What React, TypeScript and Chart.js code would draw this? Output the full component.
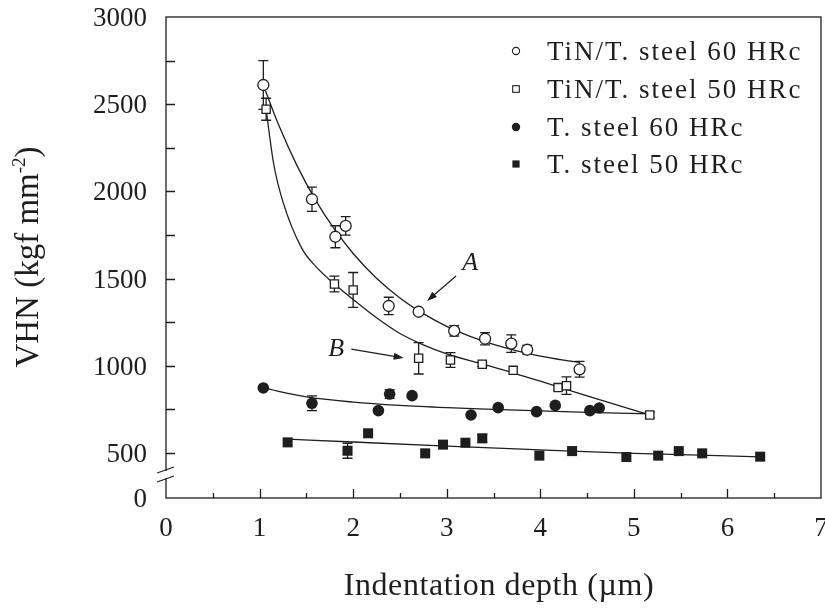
import React, { useEffect, useRef } from 'react';
import { Chart, registerables } from 'chart.js';

Chart.register(...registerables);

// Measured hardness: TiN-coated tool steel, 60 HRc (open circles)
const tin60X = [1.04, 1.56, 1.81, 1.92, 2.38, 2.70, 3.08, 3.41, 3.69, 3.86, 4.42];
const tin60Y = [2610, 1955, 1740, 1802, 1343, 1310, 1200, 1155, 1127, 1092, 980];
const tin60Err = [140, 70, 63, 53, 50, 12, 30, 35, 50, 25, 45];

// TiN-coated tool steel, 50 HRc (open squares)
const tin50X = [1.07, 1.80, 2.00, 2.70, 3.04, 3.38, 3.71, 4.19, 4.28, 5.17];
const tin50Y = [2471, 1469, 1435, 1043, 1033, 1009, 974, 875, 886, 718];
const tin50Err = [63, 45, 100, 90, 42, 12, 0, 15, 50, 15];

// Uncoated tool steel, 60 HRc (filled circles)
const st60X = [1.04, 1.56, 2.27, 2.39, 2.63, 3.26, 3.55, 3.96, 4.16, 4.53, 4.63];
const st60Y = [873, 785, 743, 838, 829, 718, 760, 737, 773, 743, 758];
const st60Err = [0, 42, 0, 25, 0, 0, 0, 0, 0, 0, 0];

// Uncoated tool steel, 50 HRc (filled squares)
const st50X = [1.30, 1.94, 2.16, 2.77, 2.96, 3.20, 3.38, 3.99, 4.34, 4.92, 5.26, 5.48, 5.73, 6.35];
const st50Y = [561, 513, 613, 498, 548, 559, 584, 485, 511, 477, 485, 511, 498, 479];
const st50Err = [0, 43, 0, 0, 0, 0, 22, 0, 0, 0, 0, 0, 0, 0];

// Fitted trend curves
const fitAX = [1.04, 1.2, 1.4, 1.6, 1.8, 2.0, 2.25, 2.5, 2.75, 3.0, 3.25, 3.5, 3.75, 4.0, 4.25, 4.42];
const fitAY = [2610, 2386, 2148, 1949, 1783, 1644, 1502, 1389, 1299, 1226, 1169, 1123, 1086, 1056, 1033, 1020];
const fitBX = [1.07, 1.15, 1.25, 1.45, 1.6, 1.8, 2.0, 2.25, 2.5, 2.75, 3.0, 3.5, 4.0, 4.5, 5.17];
const fitBY = [2471, 2160, 1940, 1675, 1570, 1469, 1380, 1275, 1185, 1120, 1068, 993, 912, 828, 718];
const fitCX = [1.04, 1.5, 2.0, 2.5, 3.0, 3.5, 4.0, 4.5, 5.17];
const fitCY = [873, 822, 792, 773, 760, 750, 741, 733, 725];
const fitDX = [1.30, 2.0, 3.0, 4.0, 5.0, 6.35];
const fitDY = [580, 563, 540, 518, 498, 478];

const seriesLabels = ['TiN/T. steel 60 HRc', 'TiN/T. steel 50 HRc', 'T. steel 60 HRc', 'T. steel 50 HRc'];

const xTicks = [0, 1, 2, 3, 4, 5, 6, 7];
const xMinorTicks = [0.5, 1.5, 2.5, 3.5, 4.5, 5.5, 6.5];
const yTicks = [500, 1000, 1500, 2000, 2500, 3000];
const yMinorTicks = [750, 1250, 1750, 2250, 2750];
// Below the axis break, this axis value stands in for 0
const Y_ZERO = 242;

const INK = '#1e1e1e';
const FONT = '"Liberation Serif", "Times New Roman", serif';

const pts = (xs: number[], ys: number[]) => xs.map((x, i) => ({ x, y: ys[i] }));

const errorSets = [
  { xs: tin60X, ys: tin60Y, es: tin60Err },
  { xs: tin50X, ys: tin50Y, es: tin50Err },
  { xs: st60X, ys: st60Y, es: st60Err },
  { xs: st50X, ys: st50Y, es: st50Err },
];

function arrow(ctx: CanvasRenderingContext2D, x1: number, y1: number, x2: number, y2: number) {
  const ang = Math.atan2(y2 - y1, x2 - x1);
  const len = 10;
  const hw = 3.5;
  ctx.beginPath();
  ctx.moveTo(x1, y1);
  ctx.lineTo(x2 - Math.cos(ang) * len * 0.8, y2 - Math.sin(ang) * len * 0.8);
  ctx.stroke();
  ctx.beginPath();
  ctx.moveTo(x2, y2);
  ctx.lineTo(x2 - Math.cos(ang) * len - Math.sin(ang) * hw, y2 - Math.sin(ang) * len + Math.cos(ang) * hw);
  ctx.lineTo(x2 - Math.cos(ang) * len + Math.sin(ang) * hw, y2 - Math.sin(ang) * len - Math.cos(ang) * hw);
  ctx.closePath();
  ctx.fill();
}

const errorBarPlugin = {
  id: 'errorBars',
  beforeDatasetsDraw(chart: any) {
    const { ctx, scales } = chart;
    const xs = scales.x;
    const ys = scales.y;
    ctx.save();
    ctx.strokeStyle = INK;
    ctx.lineWidth = 1.3;
    errorSets.forEach((set) => {
      set.xs.forEach((x, i) => {
        const e = set.es[i];
        if (!e) return;
        const px = xs.getPixelForValue(x);
        const top = ys.getPixelForValue(set.ys[i] + e);
        const bot = ys.getPixelForValue(set.ys[i] - e);
        ctx.beginPath();
        ctx.moveTo(px, top);
        ctx.lineTo(px, bot);
        ctx.moveTo(px - 5, top);
        ctx.lineTo(px + 5, top);
        ctx.moveTo(px - 5, bot);
        ctx.lineTo(px + 5, bot);
        ctx.stroke();
      });
    });
    ctx.restore();
  },
};

const decorPlugin = {
  id: 'decor',
  afterDraw(chart: any) {
    const { ctx, chartArea, scales } = chart;
    const { left, right, top, bottom } = chartArea;
    const xs = scales.x;
    const ys = scales.y;
    ctx.save();
    ctx.strokeStyle = INK;
    ctx.fillStyle = INK;
    ctx.lineWidth = 1.3;

    // frame
    ctx.strokeRect(left, top, right - left, bottom - top);

    // inward ticks
    ctx.beginPath();
    yTicks.concat(yMinorTicks).forEach((v) => {
      if (v >= 3000) return;
      const py = Math.round(ys.getPixelForValue(v)) + 0.5;
      ctx.moveTo(left, py);
      ctx.lineTo(left + 9, py);
    });
    xTicks.forEach((v) => {
      if (v === 0 || v === 7) return;
      const px = Math.round(xs.getPixelForValue(v)) + 0.5;
      ctx.moveTo(px, bottom);
      ctx.lineTo(px, bottom - 9);
    });
    xMinorTicks.forEach((v) => {
      const px = Math.round(xs.getPixelForValue(v)) + 0.5;
      ctx.moveTo(px, bottom);
      ctx.lineTo(px, bottom - 5);
    });
    ctx.stroke();

    // tick labels
    ctx.font = `27px ${FONT}`;
    ctx.textBaseline = 'alphabetic';
    ctx.textAlign = 'right';
    [Y_ZERO, ...yTicks].forEach((v) => {
      const py = ys.getPixelForValue(v);
      ctx.fillText(v === Y_ZERO ? '0' : String(v), left - 19, py + 9);
    });
    ctx.textAlign = 'center';
    xTicks.forEach((v) => {
      ctx.fillText(String(v), xs.getPixelForValue(v), bottom + 38);
    });

    // axis break on the y axis
    ctx.fillStyle = '#fff';
    ctx.fillRect(left - 3, bottom - 27, 6, 7);
    ctx.fillStyle = INK;
    ctx.beginPath();
    ctx.moveTo(left - 9, bottom - 25);
    ctx.lineTo(left + 8, bottom - 31);
    ctx.moveTo(left - 9, bottom - 16);
    ctx.lineTo(left + 8, bottom - 22);
    ctx.stroke();

    // legend
    const legendX = 516;
    const textX = 547;
    const rows = [51, 89, 127, 164];
    ctx.font = `27px ${FONT}`;
    ctx.textBaseline = 'alphabetic';
    ctx.textAlign = 'left';
    (ctx as any).letterSpacing = '2px';
    rows.forEach((ry, i) => {
      ctx.lineWidth = 1.1;
      if (i === 0) {
        ctx.beginPath();
        ctx.arc(legendX, ry, 3.6, 0, Math.PI * 2);
        ctx.stroke();
      } else if (i === 1) {
        ctx.strokeRect(legendX - 3.3, ry - 3.3, 6.6, 6.6);
      } else if (i === 2) {
        ctx.beginPath();
        ctx.arc(legendX, ry, 4.2, 0, Math.PI * 2);
        ctx.fill();
      } else {
        ctx.fillRect(legendX - 3.6, ry - 3.6, 7.2, 7.2);
      }
      ctx.fillText(seriesLabels[i], textX, ry + 9);
    });
    (ctx as any).letterSpacing = '0px';

    // curve labels with arrows
    ctx.lineWidth = 1.2;
    ctx.font = `italic 26px ${FONT}`;
    ctx.textAlign = 'center';
    ctx.textBaseline = 'middle';
    ctx.fillText('A', xs.getPixelForValue(3.25), ys.getPixelForValue(1590));
    ctx.fillText('B', xs.getPixelForValue(1.82), ys.getPixelForValue(1096));
    arrow(ctx, xs.getPixelForValue(3.10), ys.getPixelForValue(1515), xs.getPixelForValue(2.79), ys.getPixelForValue(1372));
    arrow(ctx, xs.getPixelForValue(1.98), ys.getPixelForValue(1096), xs.getPixelForValue(2.54), ys.getPixelForValue(1045));

    // x axis title
    ctx.font = `32px ${FONT}`;
    ctx.textAlign = 'center';
    ctx.textBaseline = 'alphabetic';
    (ctx as any).letterSpacing = '0.6px';
    ctx.fillText('Indentation depth (\u00b5m)', 499, 595);
    (ctx as any).letterSpacing = '0px';

    // y axis title, with superscript
    ctx.save();
    ctx.translate(38, 257);
    ctx.rotate(-Math.PI / 2);
    const mainFont = `33px ${FONT}`;
    const supFont = `19px ${FONT}`;
    ctx.font = mainFont;
    const p1 = 'VHN (kgf mm';
    const p3 = ')';
    const w1 = ctx.measureText(p1).width;
    const w3 = ctx.measureText(p3).width;
    ctx.font = supFont;
    const w2 = ctx.measureText('-2').width;
    const total = w1 + w2 + w3;
    let cx = -total / 2;
    ctx.textAlign = 'left';
    ctx.font = mainFont;
    ctx.fillText(p1, cx, 0);
    cx += w1;
    ctx.font = supFont;
    ctx.fillText('-2', cx, -13);
    cx += w2;
    ctx.font = mainFont;
    ctx.fillText(p3, cx, 0);
    ctx.restore();

    ctx.restore();
  },
};

export default function App() {
  const canvasRef = useRef<HTMLCanvasElement | null>(null);

  useEffect(() => {
    const canvas = canvasRef.current;
    if (!canvas) return;

    const fitStyle = {
      showLine: true,
      pointRadius: 0,
      borderColor: INK,
      borderWidth: 1.3,
      cubicInterpolationMode: 'monotone' as const,
      order: 2,
    };

    const chart = new Chart(canvas, {
      type: 'scatter',
      data: {
        datasets: [
          { label: 'fitA', data: pts(fitAX, fitAY), ...fitStyle },
          { label: 'fitB', data: pts(fitBX, fitBY), ...fitStyle },
          { label: 'fitC', data: pts(fitCX, fitCY), ...fitStyle },
          { label: 'fitD', data: pts(fitDX, fitDY), ...fitStyle },
          {
            label: seriesLabels[0],
            data: pts(tin60X, tin60Y),
            pointStyle: 'circle',
            pointRadius: 5.5,
            backgroundColor: '#fff',
            borderColor: INK,
            borderWidth: 1.3,
            order: 1,
          },
          {
            label: seriesLabels[1],
            data: pts(tin50X, tin50Y),
            pointStyle: 'rect',
            pointRadius: 5.8,
            backgroundColor: '#fff',
            borderColor: INK,
            borderWidth: 1.3,
            order: 1,
          },
          {
            label: seriesLabels[2],
            data: pts(st60X, st60Y),
            pointStyle: 'circle',
            pointRadius: 5.8,
            backgroundColor: INK,
            borderColor: INK,
            borderWidth: 0,
            order: 1,
          },
          {
            label: seriesLabels[3],
            data: pts(st50X, st50Y),
            pointStyle: 'rect',
            pointRadius: 7.1,
            backgroundColor: INK,
            borderColor: INK,
            borderWidth: 0,
            order: 1,
          },
        ],
      },
      options: {
        responsive: false,
        animation: false,
        devicePixelRatio: 1,
        events: [],
        layout: { padding: { top: 17, right: 4, left: 0, bottom: 0 }, autoPadding: false },
        plugins: {
          legend: { display: false },
          tooltip: { enabled: false },
          title: { display: false },
        },
        scales: {
          x: {
            type: 'linear',
            min: 0,
            max: 7,
            afterBuildTicks: (s: any) => {
              s.ticks = xTicks.map((v) => ({ value: v }));
            },
            afterFit: (s: any) => {
              s.height = 116;
            },
            grid: { display: false, drawTicks: false },
            border: { display: false },
            ticks: { display: false },
          },
          y: {
            type: 'linear',
            min: Y_ZERO,
            max: 3000,
            afterBuildTicks: (s: any) => {
              s.ticks = [Y_ZERO, ...yTicks].map((v) => ({ value: v }));
            },
            afterFit: (s: any) => {
              s.width = 166;
            },
            grid: { display: false, drawTicks: false },
            border: { display: false },
            ticks: { display: false },
          },
        },
      },
      plugins: [errorBarPlugin, decorPlugin],
    });

    return () => {
      chart.destroy();
    };
  }, []);

  return (
    <div style={{ position: 'absolute', left: 0, top: 0, width: 825, height: 614, background: '#fff' }}>
      <canvas ref={canvasRef} width={825} height={614} style={{ display: 'block' }} />
    </div>
  );
}
